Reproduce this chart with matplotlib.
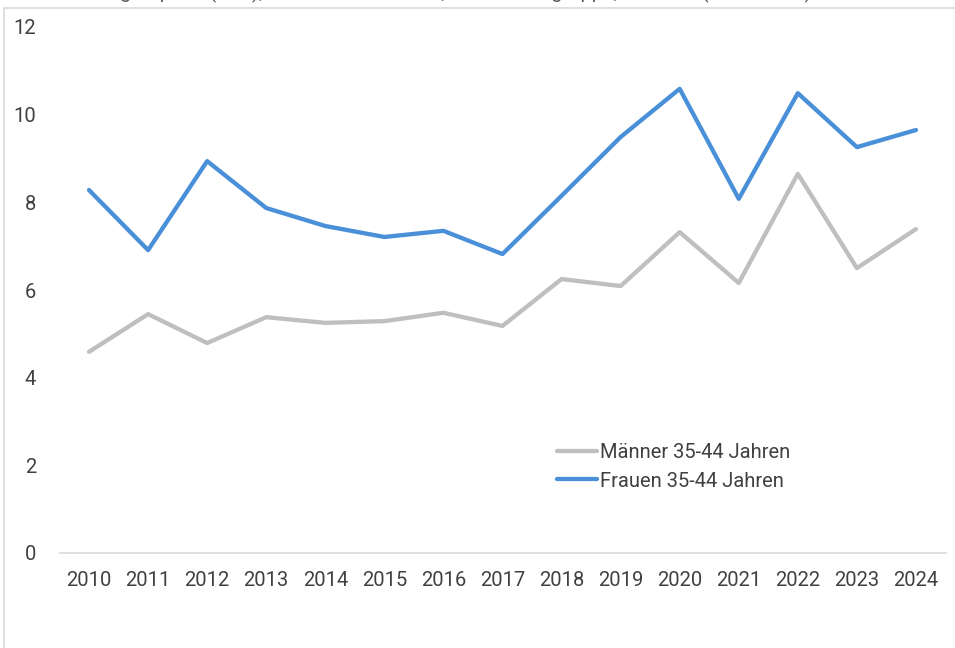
import numpy as np
import matplotlib.pyplot as plt
from matplotlib.patches import Rectangle

# ---Datos---
jahre = [str(j) for j in range(2010, 2025)]
maenner = [4.59, 5.45, 4.79, 5.38, 5.25, 5.29, 5.48, 5.18, 6.25, 6.09, 7.32, 6.16, 8.65, 6.50, 7.39]
frauen = [8.28, 6.91, 8.94, 7.87, 7.46, 7.21, 7.35, 6.82, 8.15, 9.49, 10.59, 8.08, 10.49, 9.26, 9.65]
y_ticks = [0, 2, 4, 6, 8, 10, 12]

plt.rcParams['font.family'] = ['Roboto', 'DejaVu Sans']

W, H = 955, 648
fs = 14.5
fig = plt.figure(figsize=(W / 100, H / 100), dpi=100)

# Marco gris alrededor del grafico
fig.patches.append(Rectangle((4 / W, -0.01), 1.1, 1 - 8 / H + 0.01, transform=fig.transFigure,
                             fill=False, edgecolor='#d9d9d9', linewidth=1.2))

# Titulo recortado arriba (en la referencia solo se ve la parte baja)
fig.text(0.02, 1 - 3 / H, 'Erwerbstätigenquote (in %), Männer und Frauen, nach Altersgruppe, Schweiz (2010-2024)',
         fontsize=fs, color='#595959', va='bottom', ha='left')

# Ejes: y=0 en 553 px, y=12 en 27 px; x de 59.5 a 945.5 px
x0, x1 = 59.5, 945.5
ax = fig.add_axes([x0 / W, 1 - 553 / H, (x1 - x0) / W, (553 - 27) / H])

x = np.arange(len(jahre))
ax.plot(x, maenner, color='#bfbfbf', linewidth=3.1, label='Männer 35-44 Jahren', solid_capstyle='round')
ax.plot(x, frauen, color='#4a90d9', linewidth=3.1, label='Frauen 35-44 Jahren', solid_capstyle='round')

ax.set_xlim(-0.5, len(jahre) - 0.5)
ax.set_ylim(0, 12)
ax.set_yticks(y_ticks)
ax.set_xticks(x)
ax.set_xticklabels(jahre)

for s in ['top', 'right', 'left']:
    ax.spines[s].set_visible(False)
ax.spines['bottom'].set_color('#d9d9d9')
ax.spines['bottom'].set_linewidth(1.2)
ax.tick_params(axis='both', length=0, labelsize=fs, labelcolor='#404040')
ax.tick_params(axis='y', pad=17)
ax.tick_params(axis='x', pad=13)

leg = ax.legend(loc='center left', bbox_to_anchor=((539 - x0) / (x1 - x0), (553 - 467) / (553 - 27)),
                frameon=False, fontsize=fs, handlelength=2.0, handletextpad=0.15,
                labelspacing=0.45, labelcolor='#404040')

fig.savefig('out.png', dpi=100)
